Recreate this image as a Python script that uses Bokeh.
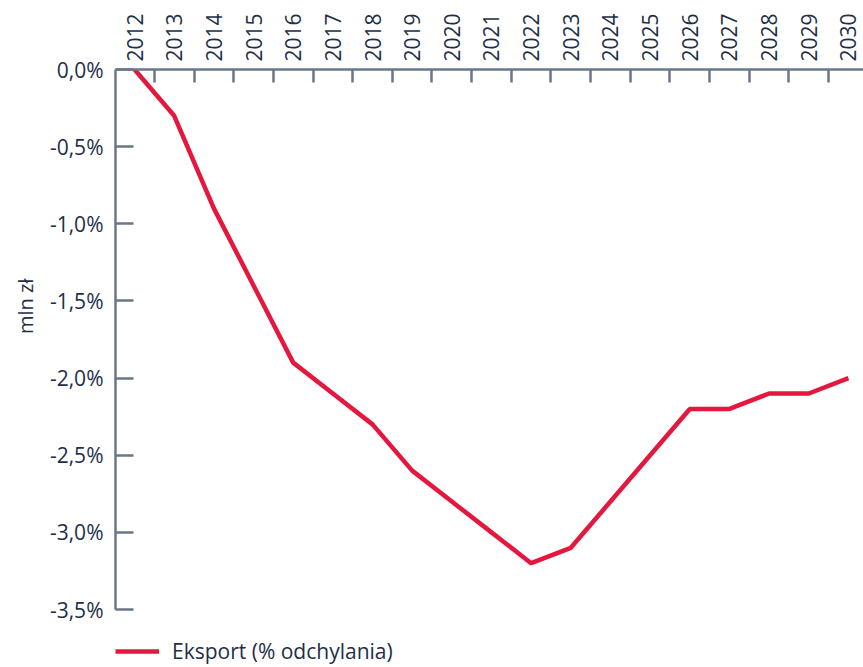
from bokeh.plotting import figure
from bokeh.models import FixedTicker, Range1d, Legend, LegendItem, LinearAxis, Title
from bokeh.embed import file_html
from bokeh.resources import INLINE

years = [2012, 2013, 2014, 2015, 2016, 2017, 2018, 2019, 2020, 2021,
         2022, 2023, 2024, 2025, 2026, 2027, 2028, 2029, 2030]
eksport = [0.0, -0.3, -0.9, -1.4, -1.9, -2.1, -2.3, -2.6, -2.8, -3.0,
           -3.2, -3.1, -2.8, -2.5, -2.2, -2.2, -2.1, -2.1, -2.0]
y_ticks = [0.0, -0.5, -1.0, -1.5, -2.0, -2.5, -3.0, -3.5]
y_tick_labels = ["0,0%", "-0,5%", "-1,0%", "-1,5%", "-2,0%", "-2,5%", "-3,0%", "-3,5%"]
series_name = "Eksport (% odchylania)"
y_title = "mln zł"

FONT = "Open Sans"
AXIS_COLOR = "#6b7789"
TEXT_COLOR = "#1e2f47"
LINE_COLOR = "#e5173f"

FRAME_H = 596
y_bottom = -FRAME_H / (540 / 3.5)

p = figure(width=863, height=665, output_backend="svg", toolbar_location=None,
           x_axis_location=None, y_axis_location=None,
           x_range=Range1d(2011.52, 2030.38), y_range=Range1d(y_bottom, 0.0),
           min_border_left=115, min_border_top=69, min_border_right=0,
           min_border_bottom=0, frame_width=748, frame_height=FRAME_H)
p.outline_line_color = None
p.grid.visible = False
p.background_fill_color = "white"

r = p.line(years, eksport, line_color=LINE_COLOR, line_width=4.5)

xa = LinearAxis(ticker=FixedTicker(ticks=years,
                                   minor_ticks=[y + 0.5 for y in years[:-1]]))
xa.major_label_overrides = {y: str(y) for y in years}
xa.major_label_orientation = "vertical"
xa.major_tick_in = 0
xa.major_tick_out = 0
xa.minor_tick_in = 13
xa.minor_tick_out = 0
xa.minor_tick_line_color = AXIS_COLOR
xa.minor_tick_line_width = 2.5
xa.axis_line_color = AXIS_COLOR
xa.axis_line_width = 2.5
xa.major_label_text_font = FONT
xa.major_label_text_font_size = "21px"
xa.major_label_text_color = TEXT_COLOR
xa.major_label_standoff = 8
p.add_layout(xa, "above")

ya = LinearAxis(ticker=FixedTicker(ticks=y_ticks, minor_ticks=[]),
                bounds=(-3.5, 0.0))
ya.major_label_overrides = dict(zip(y_ticks, y_tick_labels))
ya.major_tick_in = 18
ya.major_tick_out = 0
ya.major_tick_line_color = AXIS_COLOR
ya.major_tick_line_width = 2.5
ya.axis_line_color = AXIS_COLOR
ya.axis_line_width = 2.5
ya.major_label_text_font = FONT
ya.major_label_text_font_size = "21px"
ya.major_label_text_color = TEXT_COLOR
ya.major_label_standoff = 12
p.add_layout(ya, "left")

ytitle = Title(text=y_title, align="right", offset=209, standoff=15,
               text_font=FONT, text_font_size="20px", text_font_style="normal",
               text_color=TEXT_COLOR)
p.add_layout(ytitle, "left")

legend = Legend(items=[LegendItem(label=series_name, renderers=[r])],
                location="bottom_left", orientation="horizontal",
                margin=0, padding=0, border_line_color=None,
                glyph_width=44, label_standoff=13, spacing=0,
                label_text_font=FONT, label_text_font_size="21px",
                label_text_color=TEXT_COLOR, background_fill_alpha=0)
p.add_layout(legend, "center")

open("out.html", "w").write(file_html(p, INLINE))
